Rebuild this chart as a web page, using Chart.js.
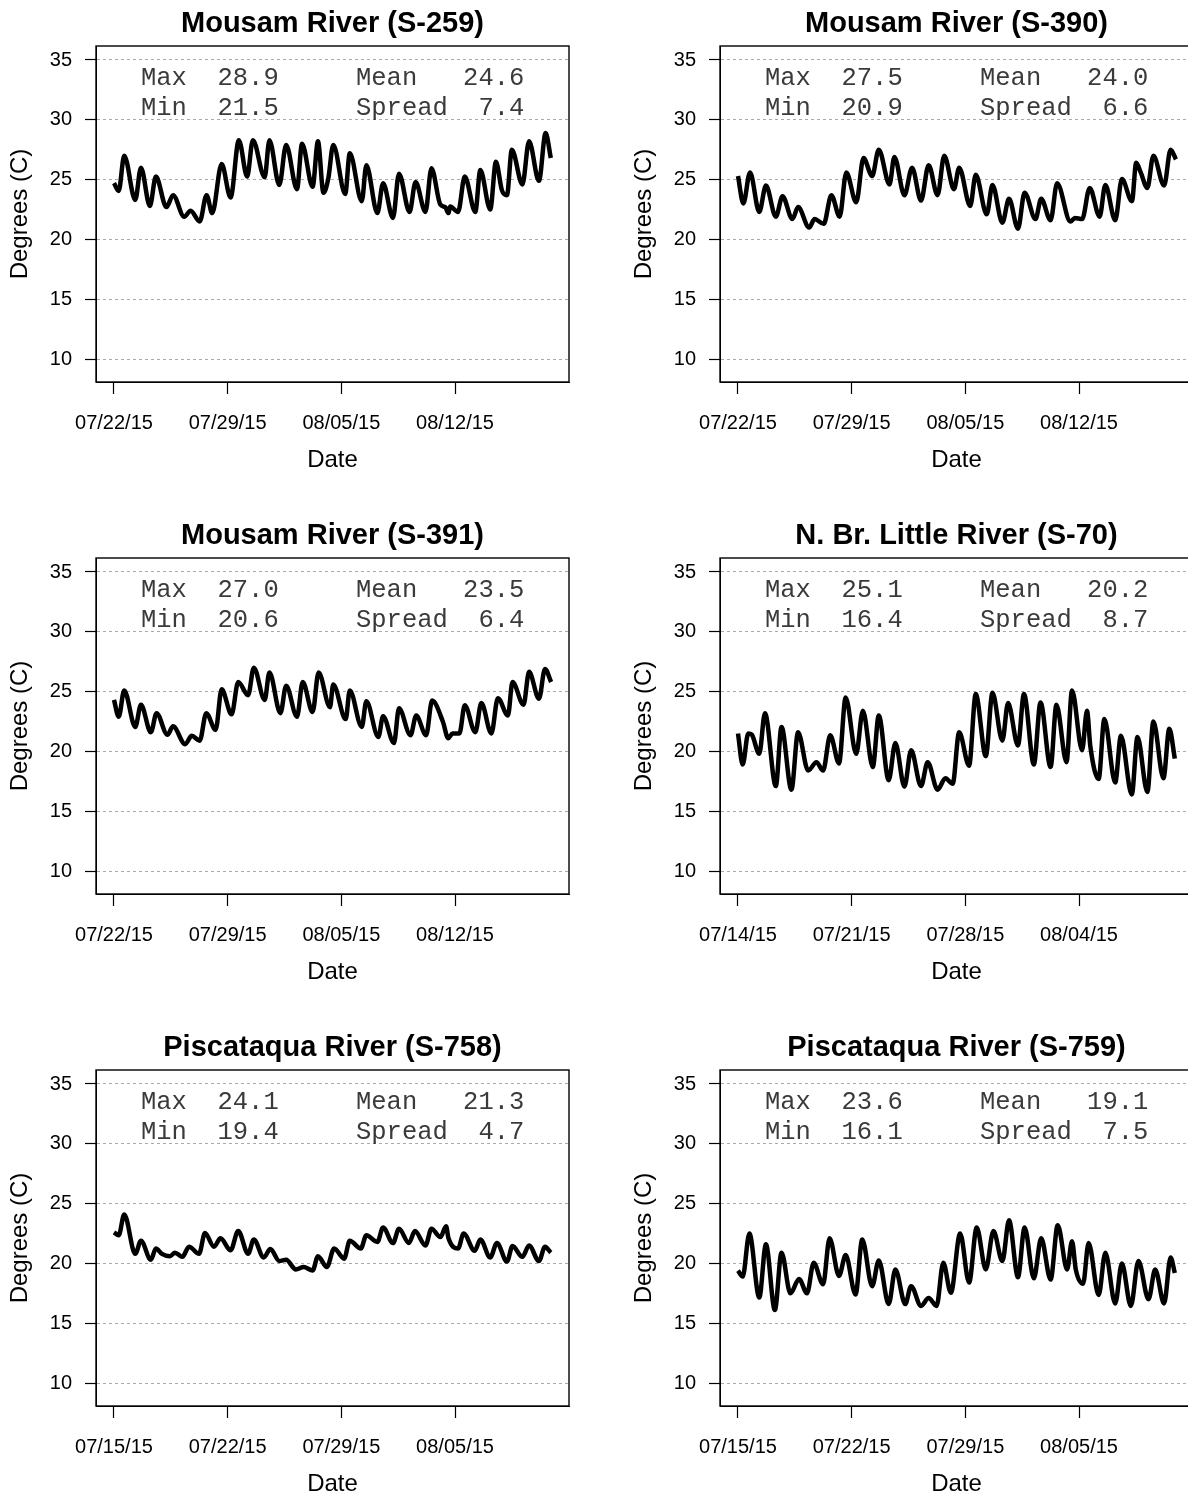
<!DOCTYPE html>
<html>
<head>
<meta charset="utf-8">
<script src="https://cdn.jsdelivr.net/npm/chart.js@4.4.1/dist/chart.umd.min.js"></script>
<style>
  html, body { margin: 0; padding: 0; background: #fff; width: 1188px; height: 1495px; overflow: hidden; }
  canvas { position: absolute; }
</style>
</head>
<body>
<canvas id="p0" width="624" height="512" style="left:0px;top:0px"></canvas>
<canvas id="p1" width="624" height="512" style="left:624px;top:0px"></canvas>
<canvas id="p2" width="624" height="512" style="left:0px;top:512px"></canvas>
<canvas id="p3" width="624" height="512" style="left:624px;top:512px"></canvas>
<canvas id="p4" width="624" height="512" style="left:0px;top:1024px"></canvas>
<canvas id="p5" width="624" height="512" style="left:624px;top:1024px"></canvas>
<script>
// days since first tick date, and water temperature (C) at daily peaks / troughs
const daysS259 = [0.0, 0.29, 0.63, 1.31, 1.66, 2.21, 2.58, 3.23, 3.64, 4.32, 4.72, 5.28, 5.70, 6.05, 6.63, 7.18, 7.69, 8.20, 8.55, 9.28, 9.57, 10.18, 10.60, 11.27, 11.58, 12.23, 12.56, 12.90, 13.20, 13.50, 14.24, 14.52, 15.26, 15.54, 16.22, 16.57, 17.18, 17.55, 18.20, 18.57, 19.18, 19.55, 20.10, 20.40, 20.60, 20.70, 21.19, 21.60, 22.25, 22.56, 23.17, 23.52, 23.89, 24.20, 24.50, 25.15, 25.56, 26.17, 26.58, 26.90];
const tempS259 = [24.7, 24.05, 27.0, 23.3, 26.0, 22.8, 25.25, 22.7, 23.7, 21.9, 22.4, 21.5, 23.7, 22.2, 26.3, 23.5, 28.3, 25.25, 28.3, 25.2, 28.3, 24.55, 27.9, 24.2, 28.0, 24.4, 28.2, 23.9, 25.1, 27.9, 23.8, 27.2, 23.2, 26.2, 22.2, 24.7, 21.8, 25.5, 22.3, 24.8, 22.3, 25.95, 22.9, 22.7, 22.2, 22.75, 22.3, 25.25, 22.3, 25.8, 22.5, 26.5, 24.1, 23.7, 27.5, 24.6, 28.2, 24.9, 28.9, 26.8];

const daysS390 = [0.0, 0.33, 0.74, 1.31, 1.72, 2.33, 2.74, 3.35, 3.70, 4.38, 4.72, 5.28, 5.75, 6.26, 6.67, 7.28, 7.73, 8.26, 8.67, 9.33, 9.63, 10.25, 10.72, 11.27, 11.74, 12.29, 12.70, 13.30, 13.62, 14.30, 14.64, 15.32, 15.67, 16.28, 16.69, 17.24, 17.65, 18.32, 18.67, 19.25, 19.65, 20.47, 20.75, 21.19, 21.66, 22.27, 22.62, 23.23, 23.64, 24.26, 24.52, 24.80, 25.21, 25.58, 26.24, 26.64, 26.97];
const tempS390 = [25.3, 23.0, 25.6, 22.3, 24.5, 21.9, 23.6, 21.7, 22.7, 21.0, 21.7, 21.3, 23.7, 21.9, 25.6, 23.1, 26.8, 25.3, 27.5, 24.6, 26.9, 23.7, 26.0, 23.25, 26.2, 23.7, 27.0, 24.2, 26.0, 22.8, 25.4, 22.1, 24.55, 21.4, 23.4, 20.9, 23.9, 21.7, 23.4, 21.6, 24.7, 21.5, 21.8, 21.7, 24.3, 21.9, 24.55, 21.6, 25.05, 23.2, 26.4, 25.6, 24.3, 27.0, 24.5, 27.5, 26.7];

const daysS391 = [0.0, 0.29, 0.63, 1.31, 1.66, 2.27, 2.62, 3.29, 3.64, 4.38, 4.79, 5.28, 5.68, 6.26, 6.63, 7.24, 7.65, 8.26, 8.61, 9.28, 9.57, 10.25, 10.60, 11.27, 11.62, 12.23, 12.60, 13.30, 13.50, 14.27, 14.52, 15.26, 15.54, 16.28, 16.57, 17.24, 17.55, 18.26, 18.61, 19.22, 19.59, 20.25, 20.58, 20.85, 21.27, 21.60, 22.25, 22.62, 23.24, 23.64, 24.26, 24.54, 25.22, 25.56, 26.17, 26.54, 26.92];
const tempS391 = [24.3, 22.9, 25.1, 22.05, 23.9, 21.6, 23.2, 21.4, 22.1, 20.6, 21.3, 20.9, 23.2, 21.8, 25.2, 23.1, 25.8, 24.7, 27.0, 24.3, 26.6, 23.2, 25.5, 22.9, 25.8, 23.3, 26.6, 23.7, 25.6, 22.7, 25.1, 22.05, 24.2, 21.2, 22.95, 20.7, 23.6, 21.35, 23.0, 21.35, 24.25, 22.5, 21.1, 21.5, 21.5, 23.85, 21.6, 24.05, 21.5, 24.45, 23.0, 25.8, 23.9, 26.65, 24.4, 26.9, 25.8];

const daysS70 = [0.0, 0.29, 0.63, 0.85, 1.31, 1.66, 2.33, 2.68, 3.29, 3.70, 4.32, 4.83, 5.24, 5.68, 6.22, 6.63, 7.28, 7.69, 8.30, 8.67, 9.28, 9.69, 10.25, 10.66, 11.27, 11.68, 12.29, 12.77, 13.22, 13.62, 14.23, 14.64, 15.26, 15.67, 16.28, 16.63, 17.24, 17.61, 18.22, 18.63, 19.25, 19.61, 20.23, 20.57, 21.19, 21.49, 21.70, 22.21, 22.56, 23.23, 23.58, 24.25, 24.60, 25.21, 25.58, 26.20, 26.56, 26.90];
const tempS70 = [21.5, 18.9, 21.5, 21.4, 19.8, 23.2, 17.1, 22.05, 16.8, 21.6, 18.4, 19.1, 18.4, 21.35, 19.0, 24.5, 19.8, 23.4, 18.7, 23.0, 17.6, 20.7, 17.05, 20.1, 17.1, 19.1, 16.8, 17.75, 17.3, 21.6, 18.8, 24.8, 19.6, 24.9, 20.9, 24.05, 20.5, 24.8, 18.9, 24.1, 18.7, 23.9, 19.1, 25.1, 20.1, 23.4, 20.4, 17.7, 22.7, 17.4, 21.3, 16.4, 21.2, 16.6, 22.5, 17.75, 21.9, 19.4];

const daysS758 = [0.0, 0.29, 0.63, 1.31, 1.66, 2.27, 2.58, 2.95, 3.44, 3.76, 4.21, 4.62, 5.24, 5.60, 6.16, 6.56, 7.18, 7.65, 8.26, 8.61, 9.22, 9.63, 10.18, 10.60, 11.20, 11.68, 12.23, 12.56, 13.11, 13.56, 14.17, 14.52, 15.20, 15.54, 16.22, 16.57, 17.18, 17.55, 18.16, 18.53, 19.18, 19.55, 20.10, 20.45, 20.60, 21.19, 21.53, 22.21, 22.56, 23.17, 23.58, 24.20, 24.54, 25.15, 25.56, 26.17, 26.54, 26.90];
const tempS758 = [22.6, 22.35, 24.1, 20.8, 21.9, 20.3, 21.25, 20.8, 20.6, 20.9, 20.55, 21.4, 20.8, 22.55, 21.4, 22.1, 21.1, 22.7, 20.8, 22.0, 20.5, 21.2, 20.2, 20.3, 19.5, 19.7, 19.4, 20.6, 19.7, 21.25, 20.4, 21.9, 21.25, 22.35, 21.8, 23.0, 21.7, 22.9, 21.7, 22.7, 21.5, 22.9, 22.2, 23.1, 22.1, 21.25, 22.5, 21.05, 22.0, 20.5, 21.7, 20.15, 21.45, 20.55, 21.5, 20.2, 21.4, 20.9];

const daysS759 = [0.0, 0.29, 0.70, 1.31, 1.72, 2.27, 2.68, 3.23, 3.76, 4.25, 4.66, 5.24, 5.64, 6.22, 6.63, 7.24, 7.65, 8.26, 8.67, 9.28, 9.69, 10.30, 10.66, 11.27, 11.74, 12.23, 12.64, 13.11, 13.68, 14.23, 14.70, 15.26, 15.73, 16.28, 16.69, 17.24, 17.65, 18.22, 18.67, 19.25, 19.69, 20.27, 20.57, 20.80, 21.25, 21.59, 22.21, 22.62, 23.23, 23.64, 24.19, 24.66, 25.28, 25.69, 26.24, 26.64, 26.90];
const tempS759 = [19.4, 18.9, 22.5, 17.15, 21.6, 16.1, 20.9, 17.5, 18.7, 17.5, 20.05, 18.25, 22.1, 18.95, 20.7, 17.4, 22.0, 18.1, 20.25, 16.6, 19.5, 16.6, 18.1, 16.45, 17.1, 16.45, 20.05, 17.55, 22.5, 18.4, 23.0, 19.5, 22.7, 20.2, 23.6, 18.85, 23.0, 18.75, 22.1, 18.65, 23.2, 19.5, 21.85, 19.5, 18.3, 21.7, 17.35, 20.9, 16.65, 20.0, 16.45, 20.2, 17.0, 19.5, 16.65, 20.5, 19.2];

const panelTitles = ['Mousam River (S-259)', 'Mousam River (S-390)', 'Mousam River (S-391)',
                     'N. Br. Little River (S-70)', 'Piscataqua River (S-758)', 'Piscataqua River (S-759)'];
const tickDays = [0, 7, 14, 21];
const ticksJul22 = ['07/22/15', '07/29/15', '08/05/15', '08/12/15'];
const ticksJul14 = ['07/14/15', '07/21/15', '07/28/15', '08/04/15'];
const ticksJul15 = ['07/15/15', '07/22/15', '07/29/15', '08/05/15'];
const yTicks = [10, 15, 20, 25, 30, 35];

const statMax = ['28.9', '27.5', '27.0', '25.1', '24.1', '23.6'];
const statMin = ['21.5', '20.9', '20.6', '16.4', '19.4', '16.1'];
const statMean = ['24.6', '24.0', '23.5', '20.2', '21.3', '19.1'];
const statSpread = ['7.4', '6.6', '6.4', '8.7', '4.7', '7.5'];

const panels = [
  { days: daysS259, temp: tempS259, ticks: ticksJul22 },
  { days: daysS390, temp: tempS390, ticks: ticksJul22 },
  { days: daysS391, temp: tempS391, ticks: ticksJul22 },
  { days: daysS70, temp: tempS70, ticks: ticksJul14 },
  { days: daysS758, temp: tempS758, ticks: ticksJul15 },
  { days: daysS759, temp: tempS759, ticks: ticksJul15 }
];

// box around plot + the stats block in the top of each panel
const panelExtras = {
  id: 'panelExtras',
  afterDraw(chart, args, opts) {
    const ctx = chart.ctx;
    const a = chart.chartArea;
    ctx.save();
    ctx.strokeStyle = '#000';
    ctx.lineWidth = 1.4;
    ctx.strokeRect(a.left, a.top, a.right - a.left, a.bottom - a.top);

    ctx.font = '25.5px "Liberation Mono", "Courier New", monospace';
    ctx.fillStyle = '#3a3a3a';
    ctx.textBaseline = 'middle';
    ctx.textAlign = 'left';
    const i = opts.index;
    ctx.fillText('Max' + statMax[i].padStart(6), a.left + 45, a.top + 32);
    ctx.fillText('Min' + statMin[i].padStart(6), a.left + 45, a.top + 62);
    ctx.fillText('Mean' + statMean[i].padStart(7), a.left + 260, a.top + 32);
    ctx.fillText('Spread' + statSpread[i].padStart(5), a.left + 260, a.top + 62);
    ctx.restore();
  }
};

const sans = 'Liberation Sans, Arial, sans-serif';

panels.forEach((p, i) => {
  const pts = p.days.map((d, k) => ({ x: d, y: p.temp[k] }));
  new Chart(document.getElementById('p' + i), {
    type: 'line',
    data: {
      datasets: [{
        data: pts,
        borderColor: '#000',
        borderWidth: 4.5,
        pointRadius: 0,
        fill: false,
        cubicInterpolationMode: 'monotone'
      }]
    },
    options: {
      responsive: false,
      animation: false,
      layout: { padding: { left: 0, right: 55, top: 0, bottom: 0 } },
      plugins: {
        legend: { display: false },
        tooltip: { enabled: false },
        title: {
          display: true,
          text: panelTitles[i],
          fullSize: false,
          color: '#000',
          font: { family: sans, size: 29, weight: 'bold' },
          padding: { top: 7, bottom: 4.2 }
        },
        panelExtras: { index: i }
      },
      scales: {
        x: {
          type: 'linear',
          min: -1.108,
          max: 28.02,
          afterBuildTicks: s => { s.ticks = tickDays.map(v => ({ value: v })); },
          afterFit: s => { s.height = 130; },
          ticks: {
            callback: (v, k) => p.ticks[k],
            color: '#000',
            font: { family: sans, size: 20 },
            padding: 17,
            autoSkip: false,
            maxRotation: 0
          },
          grid: { drawOnChartArea: false, drawTicks: true, tickLength: 12, tickColor: '#000', tickWidth: 1.2 },
          border: { display: true, color: '#000' },
          title: {
            display: true, text: 'Date', color: '#000',
            font: { family: sans, size: 24 },
            padding: { top: 0, bottom: 37 }
          }
        },
        y: {
          min: 8.08,
          max: 36.17,
          afterBuildTicks: s => { s.ticks = yTicks.map(v => ({ value: v })); },
          afterFit: s => { s.width = 96; },
          ticks: {
            color: '#000',
            font: { family: sans, size: 20 },
            padding: 13
          },
          grid: { color: '#aaa', lineWidth: 1, tickLength: 11, tickColor: '#000', tickWidth: 1.2, tickBorderDash: [] },
          border: { display: true, color: '#000', dash: [3, 3] },
          title: {
            display: true, text: 'Degrees (C)', color: '#000',
            font: { family: sans, size: 24 },
            padding: { top: 6, bottom: 0 }
          }
        }
      }
    },
    plugins: [panelExtras]
  });
});
</script>
</body>
</html>
